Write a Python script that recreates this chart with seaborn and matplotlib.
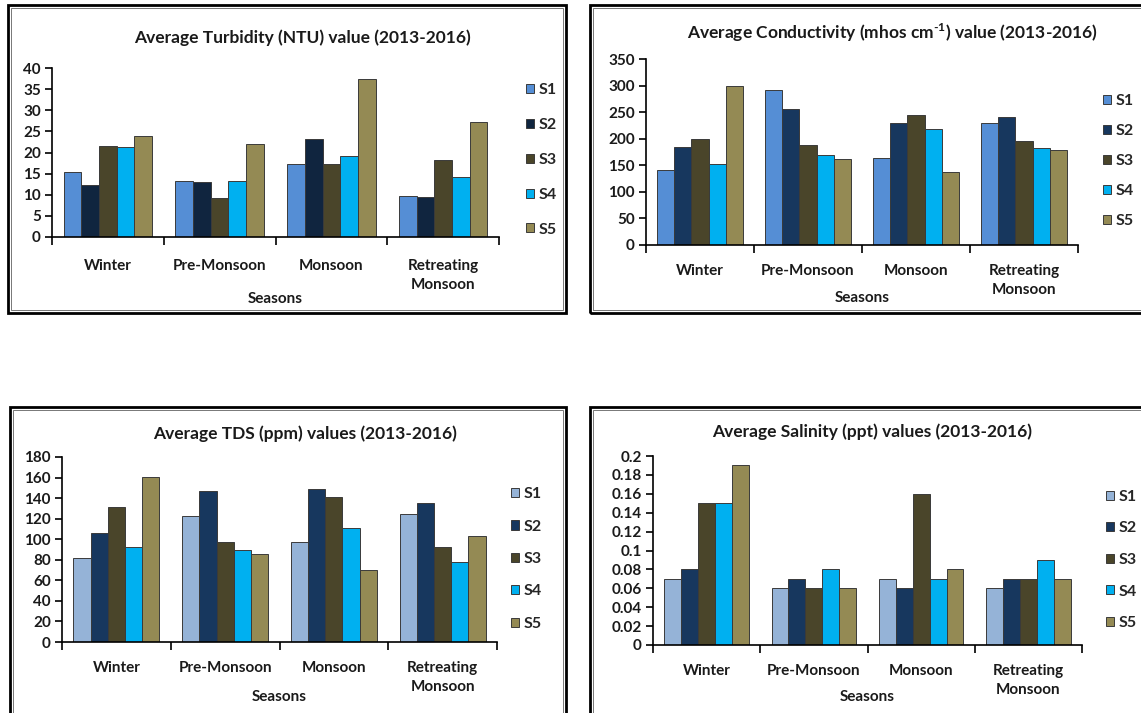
import matplotlib

matplotlib.use("Agg")
import matplotlib.pyplot as plt
import pandas as pd
import seaborn as sns
from matplotlib.patches import Rectangle
from matplotlib.ticker import FixedLocator

# data
seasons = ["Winter", "Pre-Monsoon", "Monsoon", "Retreating\nMonsoon"]
sites = ["S1", "S2", "S3", "S4", "S5"]

# one list per site, values in season order
turbidity = [
    [15.3, 13.3, 17.2, 9.6],
    [12.2, 13.1, 23.3, 9.4],
    [21.6, 9.2, 17.3, 18.3],
    [21.4, 13.3, 19.2, 14.2],
    [23.8, 22.0, 37.4, 27.2],
]
conductivity = [
    [142, 292, 164, 230],
    [185, 255, 230, 240],
    [199, 188, 245, 195],
    [153, 170, 218, 183],
    [300, 162, 138, 179],
]
tds = [
    [82, 123, 97, 125],
    [106, 147, 149, 135],
    [131, 97, 141, 92],
    [92, 90, 111, 78],
    [161, 86, 70, 103],
]
salinity = [
    [0.07, 0.06, 0.07, 0.06],
    [0.08, 0.07, 0.06, 0.07],
    [0.15, 0.06, 0.16, 0.07],
    [0.15, 0.08, 0.07, 0.09],
    [0.19, 0.06, 0.08, 0.07],
]

pal_top_l = ["#558ED5", "#10253F", "#4A452A", "#00B0F0", "#948A54"]
pal_top_r = ["#558ED5", "#17375E", "#4A452A", "#00B0F0", "#948A54"]
pal_bottom = ["#95B3D7", "#17375E", "#4A452A", "#00B0F0", "#948A54"]

sns.set_theme(style="white")
plt.rcParams["font.family"] = ["Lato", "DejaVu Sans"]
plt.rcParams["font.weight"] = "bold"
plt.rcParams["mathtext.fontset"] = "custom"
plt.rcParams["mathtext.rm"] = "Lato:bold"
plt.rcParams["mathtext.bf"] = "Lato:bold"

W, H = 1141, 713
fig = plt.figure(figsize=(W / 100, H / 100), dpi=100)


def to_long(values):
    rows = []
    for site, vals in zip(sites, values):
        for season, v in zip(seasons, vals):
            rows.append({"season": season, "site": site, "value": v})
    return pd.DataFrame(rows)


def panel(values, palette, ax_px, ymax, ystep, title, title_px, xpad,
          seasons_y, leg_px, leg_space, box_px, yfmt=None):
    # ax_px = (left, top, right, bottom) in pixels
    l, t, r, b = ax_px
    ax = fig.add_axes([l / W, 1 - b / H, (r - l) / W, (b - t) / H])
    sns.barplot(
        data=to_long(values), x="season", y="value", hue="site",
        palette=palette, width=0.79, gap=0, ax=ax,
        edgecolor="#3a3a3a", linewidth=0.7, saturation=1,
    )
    ax.set_xlim(-0.5, 3.5)
    ax.set_ylim(0, ymax)
    n = int(round(ymax / ystep))
    ticks = [i * ystep for i in range(n + 1)]
    ax.set_yticks(ticks)
    if yfmt:
        ax.set_yticklabels([yfmt(v) for v in ticks])
    sns.despine(ax=ax)
    for s in ["left", "bottom"]:
        ax.spines[s].set_color("black")
        ax.spines[s].set_linewidth(1.2)
    ax.xaxis.set_minor_locator(FixedLocator([-0.5, 0.5, 1.5, 2.5, 3.5]))
    ax.tick_params(axis="x", which="major", length=0, pad=xpad,
                   labelsize=11)
    ax.tick_params(axis="x", which="minor", length=6, width=1.2,
                   direction="out", bottom=True, color="black")
    ax.tick_params(axis="y", length=5, width=1.2, direction="out", left=True,
                   labelsize=11, color="black", pad=3)
    for lab in ax.get_xticklabels() + ax.get_yticklabels():
        lab.set_fontweight("bold")
        lab.set_color("#1a1a1a")
        lab.set_linespacing(1.45)
    ax.set_ylabel("")
    ax.set_xlabel("Seasons", fontsize=11, fontweight="bold", color="#1a1a1a",
                  va="center")
    ax.xaxis.set_label_coords(0.5, (b - seasons_y) / (b - t))
    ax.legend(
        loc="center left", bbox_to_anchor=(leg_px[0] / W, 1 - leg_px[1] / H),
        bbox_transform=fig.transFigure, frameon=False, borderpad=0,
        handlelength=0.5, handleheight=0.5, handletextpad=0.3,
        labelspacing=leg_space, prop={"weight": "bold", "size": 11.5},
    )
    fig.text(title_px[0] / W, 1 - title_px[1] / H, title, ha="center",
             va="center", fontsize=12.5, fontweight="bold", color="#1a1a1a")
    # chart border (double line)
    bl, bt, br, bb = box_px
    fig.patches.append(Rectangle((bl / W, 1 - bb / H), (br - bl) / W,
                                 (bb - bt) / H, transform=fig.transFigure,
                                 fill=False, edgecolor="black", lw=2.0))
    fig.patches.append(Rectangle(((bl + 3) / W, 1 - (bb - 3) / H),
                                 (br - bl - 6) / W, (bb - bt - 6) / H,
                                 transform=fig.transFigure, fill=False,
                                 edgecolor="#777777", lw=0.7))
    return ax


panel(turbidity, pal_top_l, (52, 68, 499, 237), 40, 5,
      "Average Turbidity (NTU) value (2013-2016)", (302, 38), 16,
      299, (518, 160), 1.3, (8, 5, 566, 313))
panel(conductivity, pal_top_r, (646, 59, 1078, 245), 350, 50,
      r"Average Conductivity (mhos cm$^{\text{-}1}$) value (2013-2016)",
      (892, 33), 14, 298, (1095, 161), 1.0, (590, 5, 1150, 313))
panel(tds, pal_bottom, (62, 457, 497, 642), 180, 20,
      "Average TDS (ppm) values (2013-2016)", (305, 434), 14,
      697, (503, 559), 1.15, (10, 407, 566, 725))
panel(salinity, pal_bottom, (653, 456, 1082, 645), 0.2, 0.02,
      "Average Salinity (ppt) values (2013-2016)", (872, 432), 14,
      697, (1098, 560), 1.1, (590, 407, 1150, 725),
      yfmt=lambda v: f"{v:.2f}".rstrip("0").rstrip(".") if v else "0")

fig.savefig("out.png", dpi=100)
